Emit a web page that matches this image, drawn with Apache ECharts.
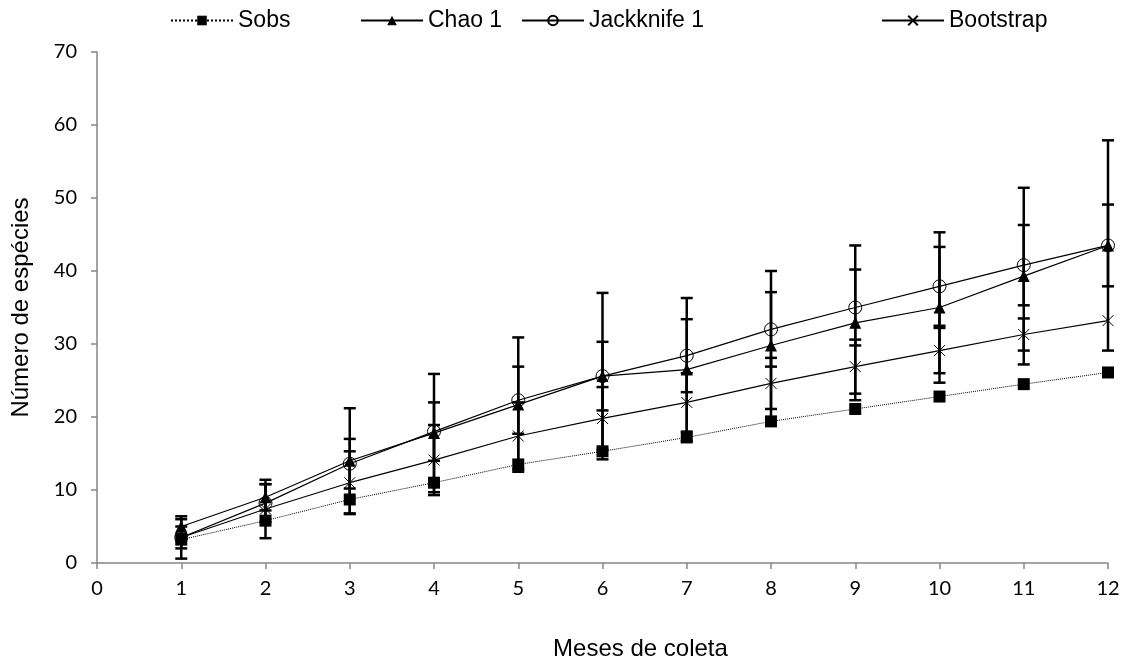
<!DOCTYPE html>
<html>
<head>
<meta charset="utf-8">
<script src="https://cdn.jsdelivr.net/npm/echarts@6/dist/echarts.min.js"></script>
<style>
  html, body { margin: 0; padding: 0; background: #ffffff; }
  #chart-container { width: 1127px; height: 658px; }
</style>
</head>
<body>
<div id="chart-container"></div>
<script>
const months = [1, 2, 3, 4, 5, 6, 7, 8, 9, 10, 11, 12];
const xTicks = [0, 1, 2, 3, 4, 5, 6, 7, 8, 9, 10, 11, 12];
const yTicks = [0, 10, 20, 30, 40, 50, 60, 70];

const sobs = [3.2, 5.8, 8.7, 11.0, 13.5, 15.3, 17.2, 19.4, 21.1, 22.8, 24.5, 26.1];
const chao1 = [5.0, 9.0, 14.0, 17.8, 21.7, 25.6, 26.5, 29.8, 32.9, 35.0, 39.3, 43.5];
const jack1 = [3.5, 8.2, 13.6, 18.0, 22.3, 25.6, 28.4, 32.0, 35.0, 37.9, 40.8, 43.5];
const boot = [3.5, 7.4, 11.0, 14.1, 17.4, 19.8, 22.0, 24.6, 26.9, 29.1, 31.3, 33.2];

// desvio padrão (barras de erro)
const chao1Sd = [1.0, 1.8, 7.2, 8.1, 9.2, 11.4, 9.8, 10.2, 10.6, 10.3, 12.1, 14.4];
const jack1Sd = [1.5, 2.6, 3.4, 4.0, 4.6, 4.7, 5.0, 5.1, 5.2, 5.4, 5.5, 5.6];
const bootSd = [2.9, 4.0, 4.3, 4.8, 4.6, 4.3, 4.0, 3.5, 3.7, 3.1, 2.2, 0];

const chartContainer = document.getElementById('chart-container');
const myChart = echarts.init(chartContainer);

const axisColor = '#868686';
const labelFont = 'Lato, "Open Sans", sans-serif';
const titleFont = '"Liberation Sans", Arial, sans-serif';

const toPairs = (vals) => vals.map((v, i) => [months[i], v]);
const toErr = (vals, sd) => vals.map((v, i) => [months[i], v - sd[i], v + sd[i]]);

const renderErrorBar = function (params, api) {
    if (api.value(2) - api.value(1) <= 0) {
        return null;
    }
    const x = api.value(0);
    const low = api.coord([x, api.value(1)]);
    const high = api.coord([x, api.value(2)]);
    const half = 6;
    const style = { stroke: '#000000', lineWidth: 2.5 };
    return {
        type: 'group',
        children: [
            { type: 'line', shape: { x1: high[0], y1: high[1], x2: low[0], y2: low[1] }, style: style },
            { type: 'line', shape: { x1: high[0] - half, y1: high[1], x2: high[0] + half, y2: high[1] }, style: style },
            { type: 'line', shape: { x1: low[0] - half, y1: low[1], x2: low[0] + half, y2: low[1] }, style: style }
        ]
    };
};

const errSeries = (name, vals, sd) => ({
    name: name,
    type: 'custom',
    renderItem: renderErrorBar,
    data: toErr(vals, sd),
    z: 3,
    silent: true
});

const legendBase = (name, left) => ({
    data: [name],
    left: left,
    top: 4,
    itemWidth: 62,
    itemHeight: 12,
    itemGap: 8,
    textStyle: { fontFamily: titleFont, fontSize: 23, color: '#000000' }
});

const xSymbol = 'path://M0,0L10,10M10,0L0,10';

const options = {
    backgroundColor: '#ffffff',
    animation: false,
    legend: [
        legendBase('Sobs', 165),
        legendBase('Chao 1', 355),
        legendBase('Jackknife 1', 516),
        legendBase('Bootstrap', 876)
    ],
    grid: { left: 97, right: 19, top: 52, bottom: 95, outerBoundsMode: 'none' },
    xAxis: {
        type: 'value',
        min: xTicks[0],
        max: xTicks[xTicks.length - 1],
        interval: 1,
        name: 'Meses de coleta',
        nameLocation: 'middle',
        nameGap: 74,
        nameTextStyle: { fontFamily: titleFont, fontSize: 24, color: '#000000', padding: [0, 0, 0, 76] },
        axisLine: { lineStyle: { color: axisColor, width: 1.5 } },
        axisTick: { show: true, length: 6, lineStyle: { color: axisColor, width: 1.5 } },
        axisLabel: { fontFamily: labelFont, fontSize: 20, color: '#000000', margin: 16 },
        splitLine: { show: false }
    },
    yAxis: {
        type: 'value',
        min: yTicks[0],
        max: yTicks[yTicks.length - 1],
        interval: 10,
        name: 'Número de espécies',
        nameLocation: 'middle',
        nameGap: 64,
        nameTextStyle: { fontFamily: titleFont, fontSize: 24, color: '#000000' },
        axisLine: { show: true, lineStyle: { color: axisColor, width: 1.5 } },
        axisTick: { show: true, length: 6, lineStyle: { color: axisColor, width: 1.5 } },
        axisLabel: { fontFamily: labelFont, fontSize: 20, color: '#000000', margin: 20 },
        splitLine: { show: false }
    },
    series: [
        {
            name: 'Sobs',
            type: 'line',
            data: toPairs(sobs),
            symbol: 'rect',
            symbolSize: 12,
            lineStyle: { color: '#000000', width: 1, type: 'dotted' },
            itemStyle: { color: '#000000' },
            z: 4
        },
        {
            name: 'Chao 1',
            type: 'line',
            data: toPairs(chao1),
            symbol: 'triangle',
            symbolSize: 12,
            lineStyle: { color: '#000000', width: 1.2 },
            itemStyle: { color: '#000000' },
            z: 4
        },
        {
            name: 'Jackknife 1',
            type: 'line',
            data: toPairs(jack1),
            symbol: 'circle',
            symbolSize: 13,
            lineStyle: { color: '#000000', width: 1.2 },
            itemStyle: { color: 'none', borderColor: '#000000', borderWidth: 1 },
            z: 4
        },
        {
            name: 'Bootstrap',
            type: 'line',
            data: toPairs(boot),
            symbol: xSymbol,
            symbolSize: 11,
            lineStyle: { color: '#000000', width: 1.2 },
            itemStyle: { color: 'none', borderColor: '#000000', borderWidth: 1 },
            z: 4
        },
        errSeries('Chao 1', chao1, chao1Sd),
        errSeries('Jackknife 1', jack1, jack1Sd),
        errSeries('Bootstrap', boot, bootSd)
    ]
};

myChart.setOption(options);

window.addEventListener('resize', function () {
    myChart.resize();
});
</script>
</body>
</html>
